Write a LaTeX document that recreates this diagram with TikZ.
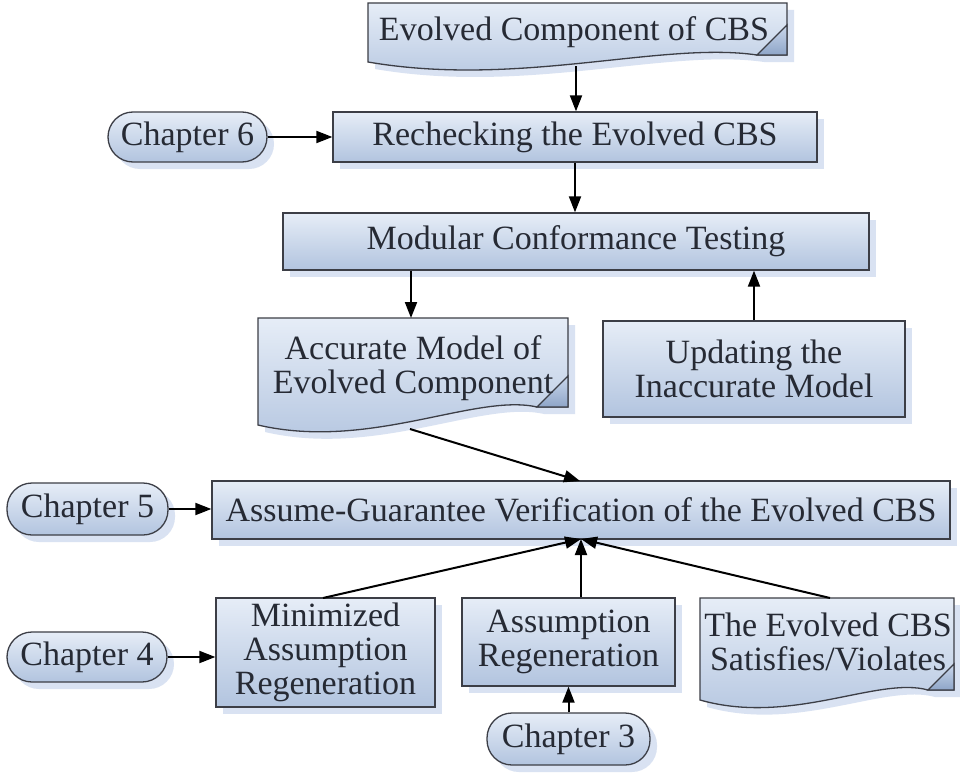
\documentclass[tikz,border=0pt]{standalone}
\usepackage{fontspec}
\setmainfont{Liberation Serif}
\usetikzlibrary{arrows.meta,shadows}

\definecolor{fillhi}{HTML}{E6EDF7}
\definecolor{filllo}{HTML}{B2C4DF}
\definecolor{edgecol}{HTML}{3C3E46}
\definecolor{shadecol}{HTML}{D9E2F2}
\definecolor{inkcol}{HTML}{262A34}
\definecolor{foldhi}{HTML}{CBD8EC}
\definecolor{foldlo}{HTML}{8EA5C8}

\tikzset{
  x=1pt, y=-1pt,
  shell/.style={draw=edgecol, line width=1.3pt, top color=fillhi, bottom color=filllo,
    drop shadow={shadow xshift=7pt, shadow yshift=-7pt, fill=shadecol, opacity=1}},
  label/.style={font=\fontsize{34}{34}\selectfont, text=inkcol, align=center, inner sep=0pt},
  box/.style={shell, label, rectangle},
  pill/.style={shell, label, rectangle, rounded corners=25pt},
  doctext/.style={label},
  foldpart/.style={top color=foldhi, bottom color=foldlo},
  arr/.style={draw=black, line width=2pt, -{Triangle[length=16pt,width=12pt]}},
}

% document shape: left, top, right, left-bottom y, fold size, rise of the fold base
\newcommand\docshape[6]{%
  \path[shell] (#1,#2) -- (#3,#2) -- (#3,{#4-#6}) -- ({#3-#5},{#4-#6})
    .. controls ({#1+0.70*(#3-#1)},{#4-#6-14}) and ({#1+0.36*(#3-#1)},{#4+26}) .. (#1,#4) -- cycle;
  \path[foldpart] ({#3-#5},{#4-#6}) -- (#3,{#4-#6-#5}) -- (#3,{#4-#6}) -- cycle;
  \draw[draw=edgecol, line width=1.3pt] ({#3-#5},{#4-#6}) -- (#3,{#4-#6-#5}) -- (#3,{#4-#6}) -- cycle;
}

\begin{document}
\begin{tikzpicture}
\useasboundingbox[fill=white] (0,0) rectangle (960,776);

% document-shaped blocks
\docshape{368}{3}{787}{62}{30}{7}
\node[doctext] (evolved) at (574,32) {Evolved Component of CBS};
\coordinate (evolvedfoot) at (576,66);

\docshape{258}{318}{568}{425}{31}{18}
\node[doctext] (accurate) at (413,368) {Accurate Model of\\Evolved Component};
\coordinate (acctop) at (411,318);
\coordinate (accfoot) at (410,429);

\docshape{700}{598}{954}{700}{26}{10}
\node[doctext] (verdict) at (828,642) {The Evolved CBS\\Satisfies/Violates};
\coordinate (verdicttop) at (830,598);

% rectangular blocks
\node[box, minimum width=484pt, minimum height=50pt] (recheck) at (575,137) {Rechecking the Evolved CBS};
\node[box, minimum width=586pt, minimum height=57pt] (modular) at (576,241.5) {Modular Conformance Testing};
\node[box, minimum width=302pt, minimum height=96pt] (updating) at (754,369) {Updating the\\Inaccurate Model};
\node[box, minimum width=738pt, minimum height=58pt] (agv) at (581,510) {Assume-Guarantee Verification of the Evolved CBS};
\node[box, minimum width=219pt, minimum height=109pt] (minimized) at (325.5,652.5) {Minimized\\Assumption\\Regeneration};
\node[box, minimum width=213pt, minimum height=88pt] (assumption) at (568.5,642) {Assumption\\Regeneration};

% chapter tags
\node[pill, minimum width=159pt, minimum height=50pt] (ch6) at (187.5,137) {Chapter 6};
\node[pill, minimum width=161pt, minimum height=52pt] (ch5) at (87.5,509) {Chapter 5};
\node[pill, minimum width=160pt, minimum height=50pt] (ch4) at (87,657) {Chapter 4};
\node[pill, minimum width=163pt, minimum height=52pt] (ch3) at (568.5,739) {Chapter 3};

% joints on the verification block
\coordinate (hubtop) at (580,481);
\coordinate (hubbot) at (581,539);

% connectors
\draw[arr] (evolvedfoot) -- (evolvedfoot |- recheck.north);
\draw[arr] (ch6.east) -- (recheck.west);
\draw[arr] (recheck.south) -- (recheck.south |- modular.north);
\draw[arr] (acctop |- modular.south) -- (acctop);
\draw[arr] (updating.north) -- (updating.north |- modular.south);
\draw[arr] (accfoot) -- (hubtop);
\draw[arr] (ch5.east) -- (ch5.east -| agv.west);
\draw[arr] (ch4.east) -- (ch4.east -| minimized.west);
\draw[arr] (ch3.north) -- (ch3.north |- assumption.south);
\draw[arr] (323,598) -- (hubbot);
\draw[arr] (hubbot |- assumption.north) -- (hubbot);
\draw[arr] (verdicttop) -- (hubbot);
\end{tikzpicture}
\end{document}
